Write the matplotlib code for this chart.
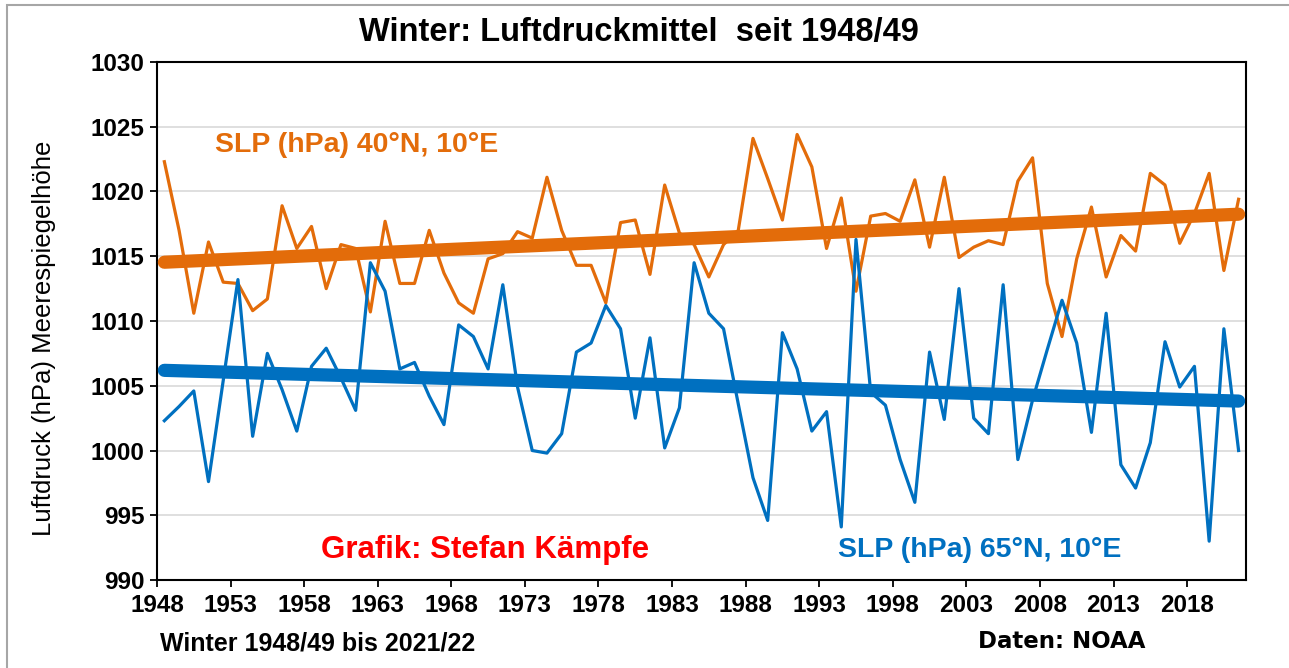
import matplotlib.pyplot as plt
import numpy as np
from matplotlib.patches import Rectangle

# winters 1948/49 ... 2021/22, plotted in the middle of each year slot
years = np.arange(1948, 2022)

slp_40n = [
    1022.3, 1017.0, 1010.6, 1016.1, 1013.0, 1012.9, 1010.8, 1011.7, 1018.9, 1015.6,
    1017.3, 1012.5, 1015.9, 1015.6, 1010.7, 1017.7, 1012.9, 1012.9, 1017.0, 1013.7,
    1011.4, 1010.6, 1014.8, 1015.2, 1016.9, 1016.4, 1021.1, 1017.0, 1014.3, 1014.3,
    1011.4, 1017.6, 1017.8, 1013.6, 1020.5, 1016.8, 1015.9, 1013.4, 1015.9, 1017.0,
    1024.1, 1021.0, 1017.8, 1024.4, 1021.9, 1015.6, 1019.5, 1012.3, 1018.1, 1018.3,
    1017.7, 1020.9, 1015.7, 1021.1, 1014.9, 1015.7, 1016.2, 1015.9, 1020.8, 1022.6,
    1012.9, 1008.8, 1014.8, 1018.8, 1013.4, 1016.6, 1015.4, 1021.4, 1020.5, 1016.0,
    1018.3, 1021.4, 1013.9, 1019.4,
]

slp_65n = [
    1002.3, 1003.4, 1004.6, 997.6, 1005.4, 1013.2, 1001.1, 1007.5, 1004.7, 1001.5,
    1006.5, 1007.9, 1005.6, 1003.1, 1014.5, 1012.3, 1006.3, 1006.8, 1004.2, 1002.0,
    1009.7, 1008.8, 1006.3, 1012.8, 1004.9, 1000.0, 999.8, 1001.3, 1007.6, 1008.3,
    1011.2, 1009.4, 1002.5, 1008.7, 1000.2, 1003.3, 1014.5, 1010.6, 1009.4, 1003.6,
    997.9, 994.6, 1009.1, 1006.3, 1001.5, 1003.0, 994.1, 1016.3, 1004.5, 1003.5,
    999.3, 996.0, 1007.6, 1002.4, 1012.5, 1002.5, 1001.3, 1012.8, 999.3, 1003.9,
    1007.8, 1011.6, 1008.3, 1001.4, 1010.6, 998.9, 997.1, 1000.6, 1008.4, 1004.9,
    1006.5, 993.0, 1009.4, 1000.0,
]

x_ticks = np.arange(1948, 2022, 5)
y_ticks = np.arange(990, 1031, 5)

ORANGE = "#E36C0A"
BLUE = "#0070C0"

plt.rcParams.update({"font.family": "Liberation Sans"})

fig = plt.figure(figsize=(12.89, 6.68), dpi=100)
ax = fig.add_axes([0.1218, 0.1317, 0.8448, 0.7755])

x = years + 0.5
for values, color in ((slp_40n, ORANGE), (slp_65n, BLUE)):
    ax.plot(x, values, color=color, linewidth=2.3, zorder=3)
    coef = np.polyfit(x, values, 1)
    ax.plot(x[[0, -1]], np.polyval(coef, x[[0, -1]]), color=color,
            linewidth=9.5, solid_capstyle="round", zorder=4)

ax.set_xlim(1948, 2022)
ax.set_ylim(990, 1030)
ax.set_xticks(x_ticks)
ax.set_yticks(y_ticks)
ax.yaxis.grid(True, color="#D9D9D9", linewidth=1.2)
ax.set_axisbelow(True)
ax.tick_params(axis="both", direction="out", length=5, width=1.3,
               labelsize=17.5)
ax.tick_params(axis="y", pad=4)
ax.tick_params(axis="x", pad=5)
for lab in ax.get_xticklabels() + ax.get_yticklabels():
    lab.set_fontweight("bold")
for sp in ax.spines.values():
    sp.set_linewidth(1.5)

ax.text(0.053, 0.84, "SLP (hPa) 40°N, 10°E", transform=ax.transAxes,
        color=ORANGE, fontsize=20.5, fontweight="bold", va="center")
ax.text(0.151, 0.058, "Grafik: Stefan Kämpfe", transform=ax.transAxes,
        color="#FF0000", fontsize=22.5, fontweight="bold", va="center")
ax.text(0.625, 0.058, "SLP (hPa) 65°N, 10°E", transform=ax.transAxes,
        color=BLUE, fontsize=20.5, fontweight="bold", va="center")

fig.text(0.496, 0.951, "Winter: Luftdruckmittel  seit 1948/49", ha="center",
         va="center", fontsize=23.5, fontweight="bold")
fig.text(0.034, 0.494, "Luftdruck (hPa) Meerespiegelhöhe", rotation=90,
         ha="center", va="center", fontsize=18.5)
fig.text(0.124, 0.037, "Winter 1948/49 bis 2021/22", ha="left", va="center",
         fontsize=18, fontweight="bold")
fig.text(0.759, 0.039, "Daten: NOAA", ha="left", va="center",
         fontsize=16.5, fontweight="heavy", family="DejaVu Sans")

fig.patches.append(Rectangle((7 / 1289, -0.1), 1.2, 1.1 - 5 / 668,
                             transform=fig.transFigure, fill=False,
                             edgecolor="#A6A6A6", linewidth=1.5))

fig.savefig("out.png", dpi=100, facecolor="white")
